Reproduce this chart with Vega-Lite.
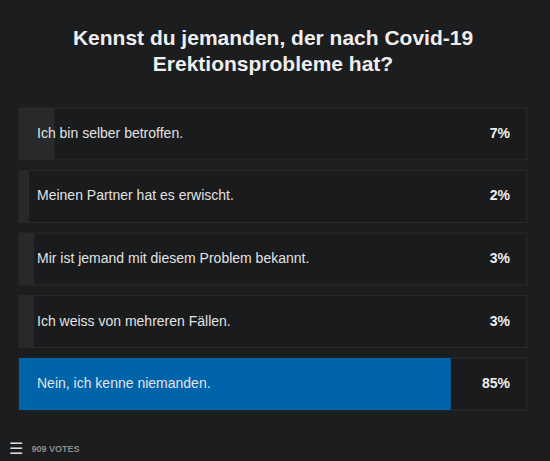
{
  "$schema": "https://vega.github.io/schema/vega-lite/v6.json",
  "width": 508,
  "height": 302,
  "autosize": "none",
  "padding": {"left": 19, "top": 108, "right": 23, "bottom": 51},
  "background": "#1c1d1f",
  "title": {
    "text": ["Kennst du jemanden, der nach Covid-19", "Erektionsprobleme hat?"],
    "font": "Liberation Sans",
    "fontSize": 21,
    "fontWeight": "bold",
    "color": "#eeeeee",
    "lineHeight": 26,
    "anchor": "middle",
    "offset": 33
  },
  "config": {
    "view": {"stroke": null},
    "font": "Liberation Sans"
  },
  "data": {
    "values": [
      {"option": "Ich bin selber betroffen.", "share": 0.07},
      {"option": "Meinen Partner hat es erwischt.", "share": 0.02},
      {"option": "Mir ist jemand mit diesem Problem bekannt.", "share": 0.03},
      {"option": "Ich weiss von mehreren Fällen.", "share": 0.03},
      {"option": "Nein, ich kenne niemanden.", "share": 0.85}
    ]
  },
  "encoding": {
    "y": {
      "field": "option",
      "type": "nominal",
      "sort": null,
      "scale": {"paddingInner": 0.17, "paddingOuter": 0},
      "axis": {
        "labels": false,
        "ticks": false,
        "domain": false,
        "title": "☰",
        "titleAngle": 0,
        "titleX": -4,
        "titleY": 340,
        "titleAlign": "center",
        "titleBaseline": "middle",
        "titleFontSize": 16,
        "titleFontWeight": "normal",
        "titleColor": "#dddddd"
      }
    }
  },
  "layer": [
    {
      "mark": {"type": "rect", "fill": "#1a1b1d", "stroke": "#2a2b2d", "strokeWidth": 1},
      "encoding": {
        "x": {
          "datum": 0,
          "type": "quantitative",
          "scale": {"domain": [0, 1], "nice": false},
          "axis": {
            "labels": false,
            "ticks": false,
            "domain": false,
            "grid": false,
            "title": "909 VOTES",
            "titleAnchor": "start",
            "titleAlign": "left",
            "titleBaseline": "middle",
            "titleX": 12,
            "titleY": 38,
            "titleFontSize": 9,
            "titleFontWeight": "bold",
            "titleColor": "#8c8c8c"
          }
        },
        "x2": {"datum": 1}
      }
    },
    {
      "mark": {"type": "bar"},
      "encoding": {
        "x": {"field": "share", "type": "quantitative"},
        "color": {
          "condition": {"test": "datum.share > 0.5", "value": "#0064ab"},
          "value": "#27292b"
        }
      }
    },
    {
      "mark": {"type": "text", "align": "left", "dx": 18, "fontSize": 14, "color": "#e2e2e2"},
      "encoding": {
        "x": {"datum": 0, "type": "quantitative"},
        "text": {"field": "option"}
      }
    },
    {
      "mark": {"type": "text", "align": "right", "dx": -17, "fontSize": 14, "fontWeight": "bold", "color": "#eeeeee"},
      "encoding": {
        "x": {"datum": 1, "type": "quantitative"},
        "text": {"field": "share", "type": "quantitative", "format": ".0%"}
      }
    }
  ]
}
